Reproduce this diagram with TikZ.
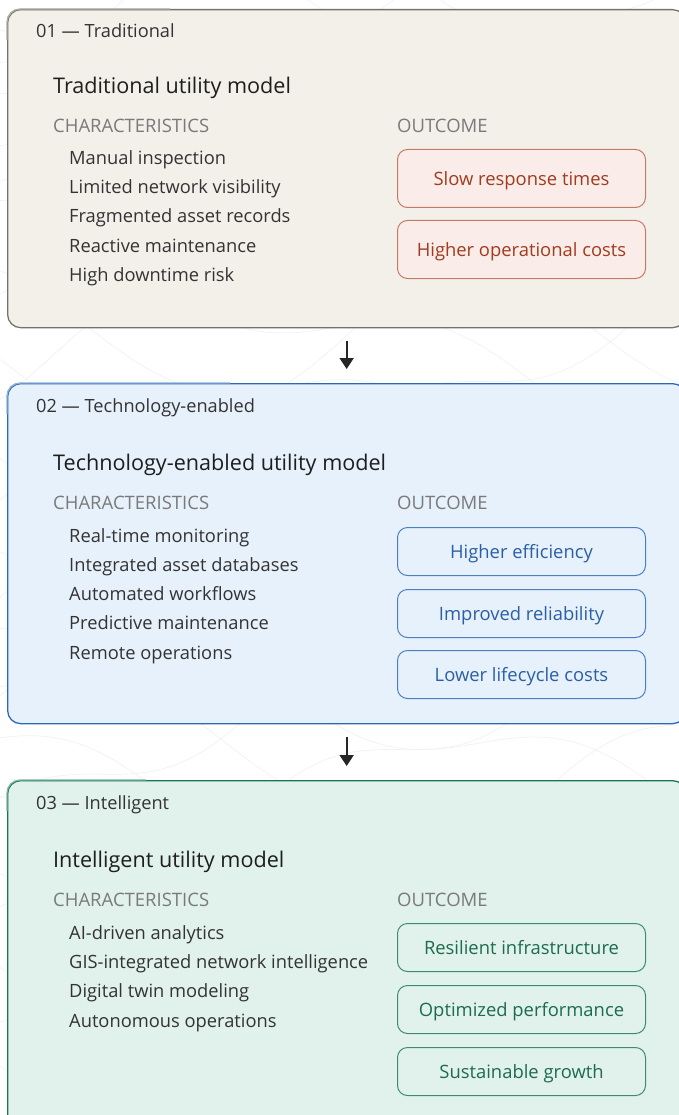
\documentclass[tikz,border=0pt]{standalone}
\usepackage{fontspec}
\setmainfont{Open Sans}
\usetikzlibrary{arrows.meta}
\definecolor{bgA}{HTML}{F3F0EA}
\definecolor{bdA}{HTML}{75716B}
\definecolor{bdAl}{HTML}{B0ACA6}
\definecolor{bgB}{HTML}{E7F1FB}
\definecolor{bdB}{HTML}{2E68AE}
\definecolor{bdBl}{HTML}{8DB2DC}
\definecolor{bgC}{HTML}{E1F1EC}
\definecolor{bdC}{HTML}{1C7352}
\definecolor{bdCl}{HTML}{7CB8A0}
\definecolor{oA}{HTML}{FAECE8}
\definecolor{obA}{HTML}{C57A65}
\definecolor{otA}{HTML}{A23B20}
\definecolor{obB}{HTML}{4B80C0}
\definecolor{otB}{HTML}{2A5FA6}
\definecolor{obC}{HTML}{3C8C6E}
\definecolor{otC}{HTML}{1D6C4E}
\definecolor{txt}{HTML}{333333}
\definecolor{ttl}{HTML}{1E1E1E}
\definecolor{hdr}{HTML}{7A7A7A}
\definecolor{contourc}{HTML}{F2F2F2}
\tikzset{
  panel/.style={rounded corners=13pt, line width=1.3pt, inner sep=0pt, anchor=north west},
  lbl/.style={anchor=west, inner sep=0pt, text height=0.72em, text depth=0pt, font=\fontsize{18.2}{21}\selectfont, text=txt},
  ttlst/.style={anchor=west, inner sep=0pt, text height=0.72em, text depth=0pt, font=\fontsize{21.6}{25}\selectfont, text=ttl},
  hdrst/.style={anchor=west, inner sep=0pt, text height=0.72em, text depth=0pt, font=\fontsize{18.5}{21}\selectfont, text=hdr},
  item/.style={anchor=west, inner sep=0pt, text height=0.72em, text depth=0pt, font=\fontsize{18.3}{21}\selectfont, text=txt},
  obox/.style={rounded corners=10pt, line width=1pt, anchor=north west, minimum width=248pt, inner sep=0pt, text height=14.8pt, text depth=0pt, font=\fontsize{18.4}{21}\selectfont},
  oboxA/.style={obox, fill=oA, draw=obA, text=otA, minimum height=58pt},
  oboxB/.style={obox, fill=bgB, draw=obB, text=otB, minimum height=48pt},
  oboxC/.style={obox, fill=bgC, draw=obC, text=otC, minimum height=48pt},
  flow/.style={line width=1.8pt, draw=black!85, -{Triangle[width=14pt,length=11pt]}},
  contour/.style={draw=contourc, line width=0.7pt}
}
\begin{document}
\begin{tikzpicture}[x=1pt,y=-1pt]
\useasboundingbox (0,0) rectangle (679,1115);
\clip (0,0) rectangle (679,1115);
\fill[white] (0,0) rectangle (679,1115);
% faint contour background
\foreach \k in {0,...,16} {
  \draw[contour] plot[smooth, domain=-60:760, samples=60] (\x, {\k*75 - 150 + 0.30*\x + 30*sin(0.9*\x + 47*\k)});
}
\foreach \k in {0,...,10} {
  \draw[contour] plot[smooth, domain=-60:760, samples=60] (\x, {\k*110 - 60 - 0.45*\x + 24*sin(1.1*\x + 31*\k)});
}

% panels
\node[panel, fill=bgA, draw=bdA, minimum width=678pt, minimum height=318pt] (p1) at (7,9) {};
\node[panel, fill=bgB, draw=bdB, minimum width=678pt, minimum height=340pt] (p2) at (7,383) {};
\node[panel, fill=bgC, draw=bdC, minimum width=678pt, minimum height=360pt] (p3) at (7,780) {};
% lighter top-left border segments
\draw[bdAl, line width=1.3pt] (7,40) -- (7,22) arc[start angle=180, end angle=90, radius=13pt] -- (170,9);
\draw[bdBl, line width=1.3pt] (7,414) -- (7,396) arc[start angle=180, end angle=90, radius=13pt] -- (230,383);
\draw[bdCl, line width=1.3pt] (7,811) -- (7,793) arc[start angle=180, end angle=90, radius=13pt] -- (146,780);

% flow arrows
\draw[flow, shorten <=13pt, shorten >=14pt] (p1.south) -- (p2.north);
\draw[flow, shorten <=13pt, shorten >=14pt] (p2.south) -- (p3.north);

% panel 1
\node[lbl] (l1) at (36,34) {01 — Traditional};
\node[ttlst] (t1) at (53,90) {Traditional utility model};
\node[hdrst] (c1) at (53,129) {CHARACTERISTICS};
\node[hdrst] (h1) at (397,129) {OUTCOME};
\node[item] (i11) at (69,161) {Manual inspection};
\node[item] (i12) at (69,190) {Limited network visibility};
\node[item] (i13) at (69,219) {Fragmented asset records};
\node[item] (i14) at (69,249) {Reactive maintenance};
\node[item] (i15) at (69,278) {High downtime risk};
\node[oboxA] (o11) at (397,149) {Slow response times};
\node[oboxA] (o12) at (397,220) {Higher operational costs};

% panel 2
\node[lbl] (l2) at (36,409) {02 — Technology-enabled};
\node[ttlst] (t2) at (53,467) {Technology-enabled utility model};
\node[hdrst] (c2) at (53,506) {CHARACTERISTICS};
\node[hdrst] (h2) at (397,506) {OUTCOME};
\node[item] (i21) at (69,539) {Real-time monitoring};
\node[item] (i22) at (69,568) {Integrated asset databases};
\node[item] (i23) at (69,597) {Automated workflows};
\node[item] (i24) at (69,626) {Predictive maintenance};
\node[item] (i25) at (69,656) {Remote operations};
\node[oboxB] (o21) at (397,527) {Higher efficiency};
\node[oboxB] (o22) at (397,589) {Improved reliability};
\node[oboxB] (o23) at (397,650) {Lower lifecycle costs};

% panel 3
\node[lbl] (l3) at (36,806) {03 — Intelligent};
\node[ttlst] (t3) at (53,864) {Intelligent utility model};
\node[hdrst] (c3) at (53,903) {CHARACTERISTICS};
\node[hdrst] (h3) at (397,903) {OUTCOME};
\node[item] (i31) at (69,936) {AI-driven analytics};
\node[item] (i32) at (69,965) {GIS-integrated network intelligence};
\node[item] (i33) at (69,994) {Digital twin modeling};
\node[item] (i34) at (69,1024) {Autonomous operations};
\node[oboxC] (o31) at (397,923) {Resilient infrastructure};
\node[oboxC] (o32) at (397,985) {Optimized performance};
\node[oboxC] (o33) at (397,1047) {Sustainable growth};
\end{tikzpicture}
\end{document}
